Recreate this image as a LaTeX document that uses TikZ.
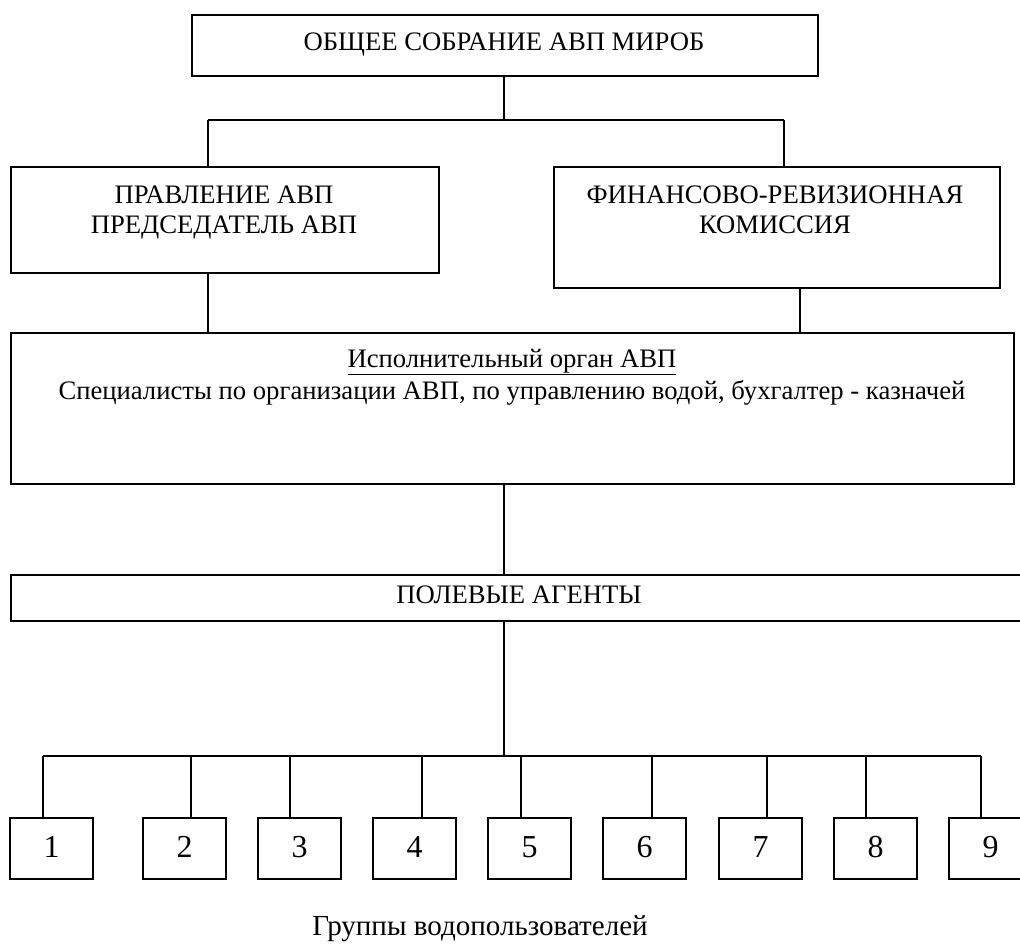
\documentclass[tikz,border=0pt]{standalone}
\usepackage{fontspec}
\setmainfont{Liberation Serif}
\usepackage{tikz}
\usetikzlibrary{positioning}

\begin{document}
\begin{tikzpicture}[
    x=0.75pt, y=-0.75pt,
    box/.style={rectangle, draw, line width=1.6pt, inner sep=0pt, anchor=north west},
    txt/.style={align=center, inner sep=0pt, anchor=base,
        font=\fontsize{20}{22.5}\selectfont},
    num/.style={inner sep=0pt, anchor=base, font=\fontsize{24}{28}\selectfont},
    line/.style={line width=1.6pt},
]
\useasboundingbox (0,0) rectangle (1020,943);

% boxes
\node[box, minimum width=626*0.75pt, minimum height=61*0.75pt] (sobr) at (191,14) {};
\node[box, minimum width=428*0.75pt, minimum height=106*0.75pt] (pravl) at (10,166) {};
\node[box, minimum width=446*0.75pt, minimum height=121*0.75pt] (fin) at (553,166) {};
\node[box, minimum width=1003*0.75pt, minimum height=151*0.75pt] (isp) at (10,332) {};
\node[box, minimum width=1016*0.75pt, minimum height=46*0.75pt] (agent) at (10,574) {};

% texts (base = last line)
\node[txt] (sobr-t) at (504,50) {ОБЩЕЕ СОБРАНИЕ АВП МИРОБ};
\node[txt] (pravl-t) at (224,233) {ПРАВЛЕНИЕ АВП\\ПРЕДСЕДАТЕЛЬ АВП};
\node[txt] (fin-t) at (775,233) {ФИНАНСОВО-РЕВИЗИОННАЯ\\КОМИССИЯ};
\node[txt, font=\fontsize{20}{24}\selectfont] (isp-t) at (512,399) {\underline{Исполнительный орган АВП}\\Специалисты по организации АВП, по управлению водой, бухгалтер - казначей};
\node[txt] (agent-t) at (519,603) {ПОЛЕВЫЕ АГЕНТЫ};
\node[txt, font=\fontsize{21.8}{25}\selectfont] (grp) at (480,935) {Группы водопользователей};

% groups
\foreach \i/\x/\d in {1/9/43, 2/142/191, 3/257/290, 4/372/422, 5/487/521,
                      6/602/652, 7/718/767, 8/833/866, 9/948/981} {
    \node[box, minimum width=83*0.75pt, minimum height=61*0.75pt] (g\i) at (\x,817) {};
    \node[num] at ([yshift=-7pt]g\i.center) {\i};
    \coordinate (d\i) at (\d,756);
    \draw[line] (d\i) -- (d\i |- g\i.north);
}

% connectors
\coordinate (top) at (504,120);
\coordinate (topl) at (208,120);
\coordinate (topr) at (784,120);
\coordinate (finl) at (800,300);
\draw[line] (sobr.south -| top) -- (top);
\draw[line] (topl) -- (topr);
\draw[line] (topl) -- (topl |- pravl.north);
\draw[line] (topr) -- (topr |- fin.north);
\draw[line] (pravl.south -| topl) -- (isp.north -| topl);
\draw[line] (fin.south -| finl) -- (isp.north -| finl);
\draw[line] (isp.south -| top) -- (agent.north -| top);
\draw[line] (agent.south -| top) -- (d5 -| top);
\draw[line] (d1) -- (d9);

\end{tikzpicture}
\end{document}
